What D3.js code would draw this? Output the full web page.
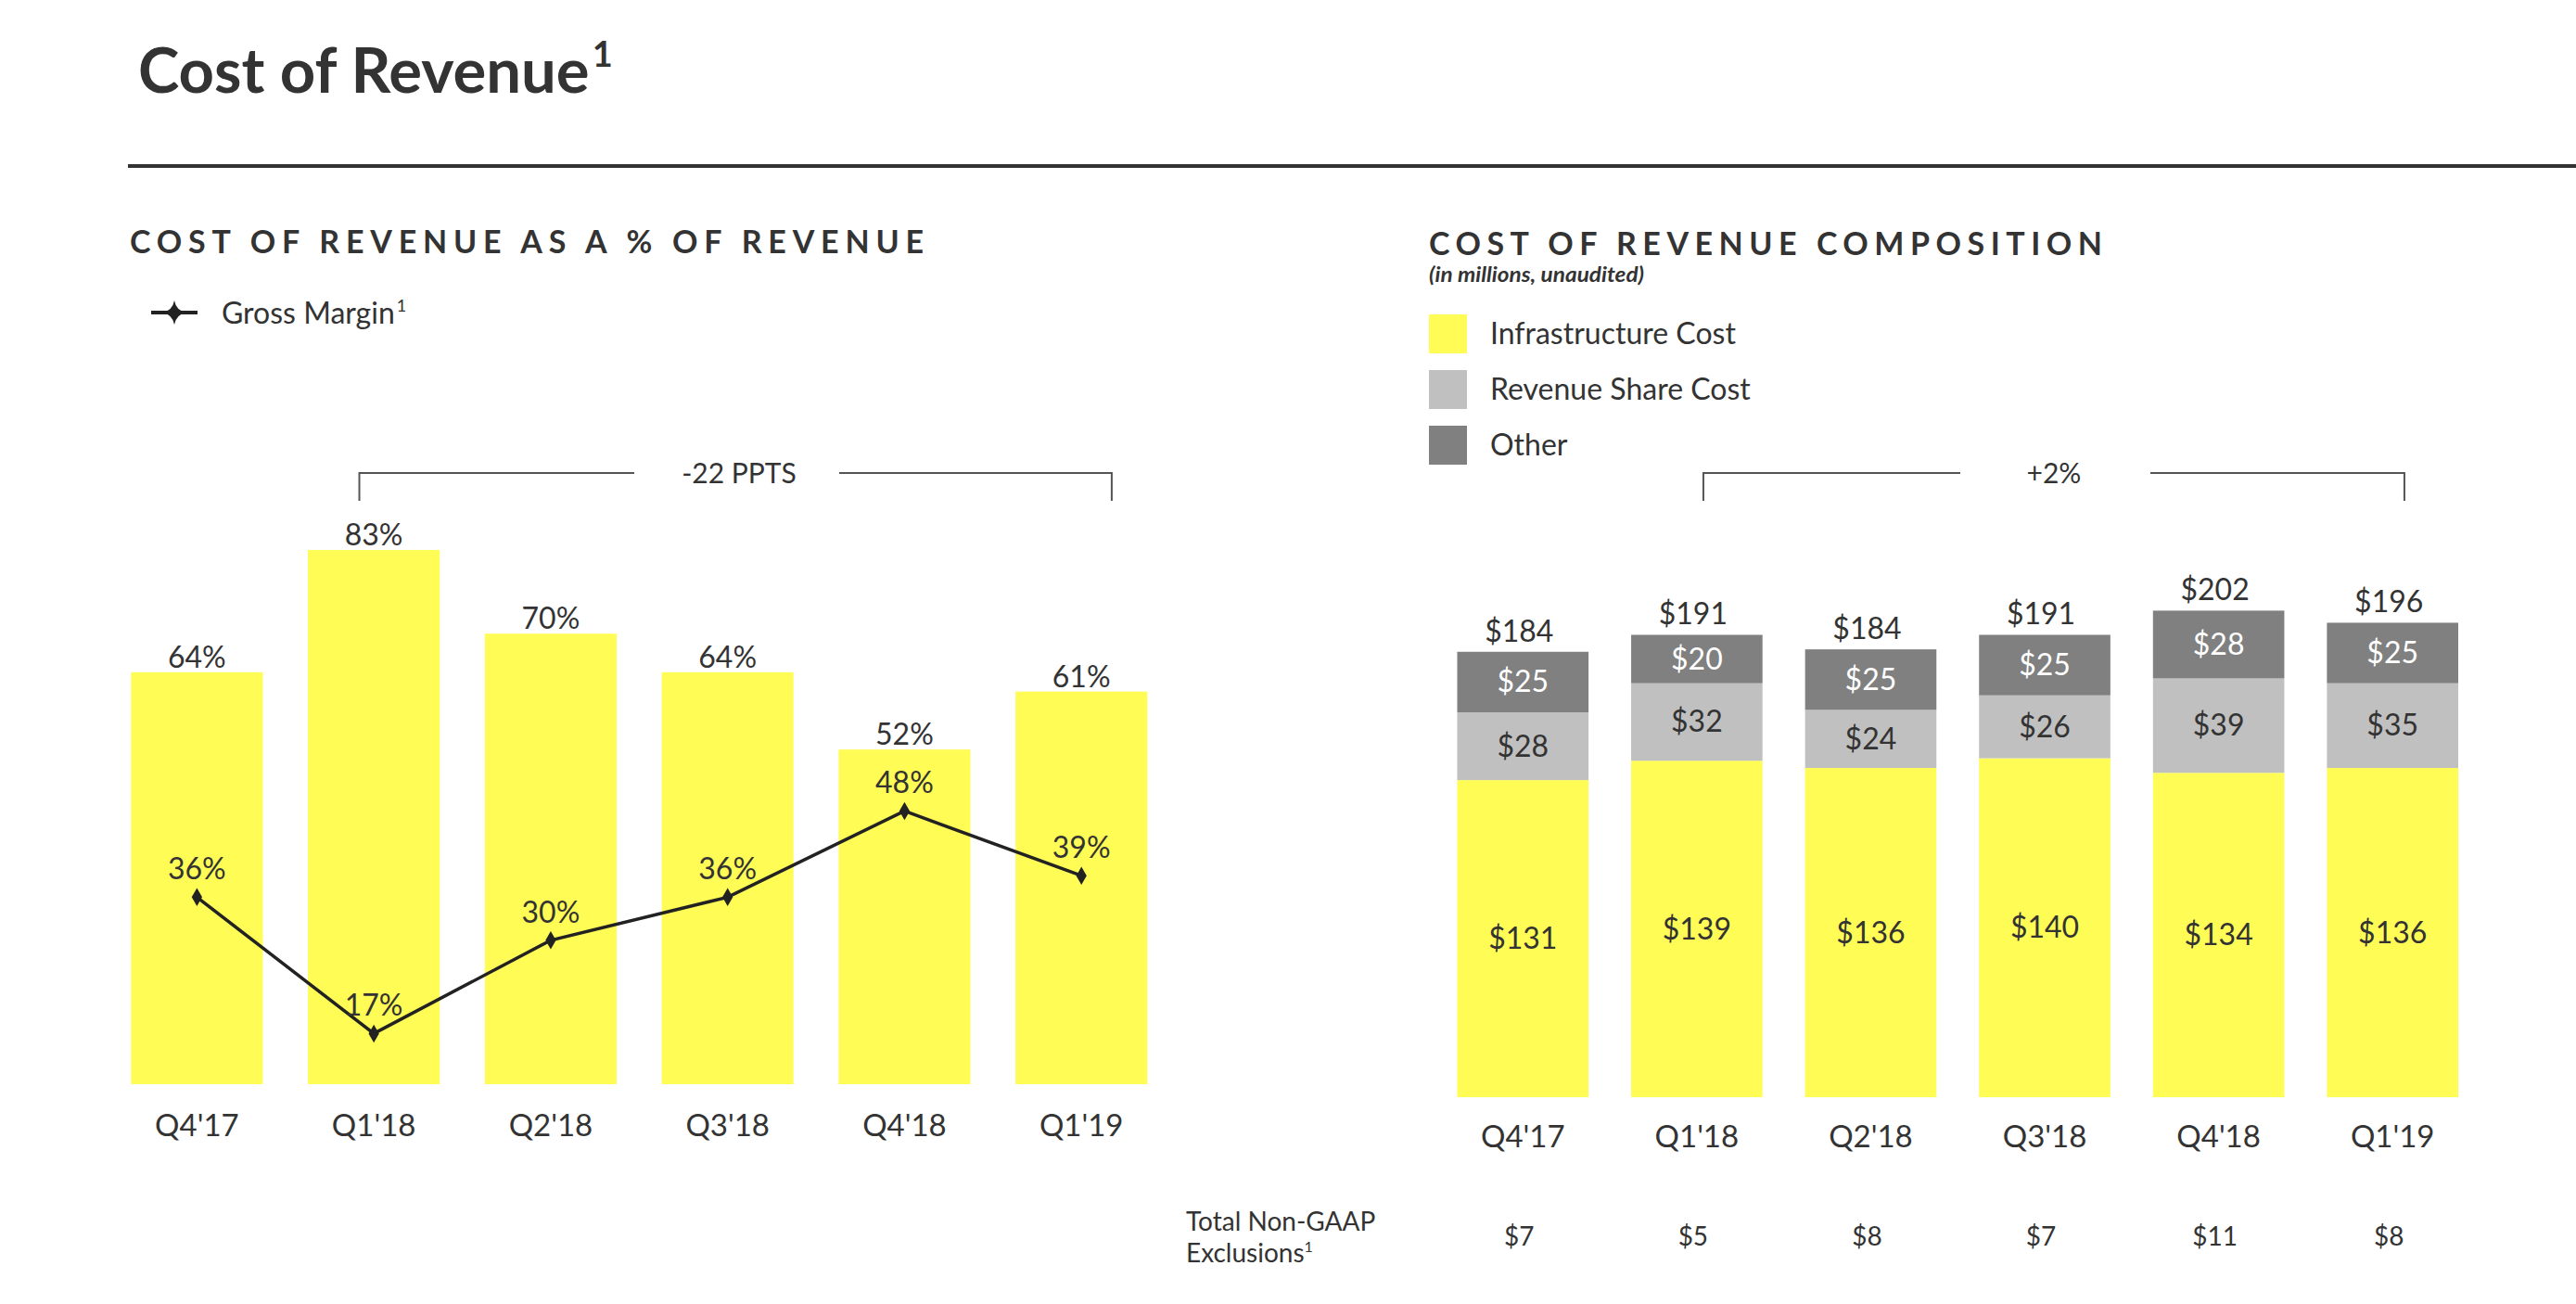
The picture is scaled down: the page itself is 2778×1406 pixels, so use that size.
<!DOCTYPE html>
<html><head><meta charset="utf-8">
<script src="https://cdn.jsdelivr.net/npm/d3@7"></script>
<style>
body{margin:0;background:#fff;}
text{font-family:Lato,"Open Sans",sans-serif;fill:#333;}
</style>
</head><body>
<svg id="c" width="2778" height="1406"></svg>
<script>
const quarters = ["Q4'17","Q1'18","Q2'18","Q3'18","Q4'18","Q1'19"];
const costPctOfRevenue = [64,83,70,64,52,61];
const grossMargin = [36,17,30,36,48,39];
const infrastructureCost = [131,139,136,140,134,136];
const revenueShareCost = [28,32,24,26,39,35];
const otherCost = [25,20,25,25,28,25];
const totalCost = [184,191,184,191,202,196];
const nonGaapExclusions = [7,5,8,7,11,8];
const seriesNames = ["Infrastructure Cost","Revenue Share Cost","Other"];
const seriesColors = ["#FFFC55","#C0C0C0","#808080"];
const seriesLabelColors = ["#333","#333","#fff"];

const svg = d3.select("#c");
const YELLOW = "#FFFC55";

// Title
const t = svg.append("text").attr("x",149).attr("y",100)
  .style("font-size","67px").style("font-weight","700").style("fill","#333")
  .text("Cost of Revenue");
t.append("tspan").attr("dx",3).attr("dy",-28).style("font-size","38px").text("1");
svg.append("line").attr("x1",138).attr("x2",2778).attr("y1",179).attr("y2",179)
  .attr("stroke","#333").attr("stroke-width",4);

// ---------- LEFT CHART ----------
svg.append("text").attr("x",140).attr("y",273)
  .attr("textLength",856).attr("lengthAdjust","spacing")
  .style("font-size","34px").style("font-weight","700").text("COST OF REVENUE AS A % OF REVENUE");

// legend
svg.append("line").attr("x1",163).attr("x2",213).attr("y1",337).attr("y2",337)
  .attr("stroke","#222").attr("stroke-width",4);
svg.append("path").attr("d","M0,-13Q2,-2 13,0Q2,2 0,13Q-2,2 -13,0Q-2,-2 0,-13Z").attr("transform","translate(188,337)").attr("fill","#222");
const lg = svg.append("text").attr("x",239).attr("y",349).style("font-size","32px").text("Gross Margin");
lg.append("tspan").attr("dx",2).attr("dy",-13).style("font-size","18px").text("1");

const xL = d3.scaleBand().domain(quarters).range([117,1261.6]).paddingInner(0.255).paddingOuter(0.1275);
const yBar = d3.scaleLinear().domain([0,100]).range([1169,475]);
const yLine = d3.scaleLinear().domain([0,100]).range([1246,472]);

svg.append("g").selectAll("rect").data(quarters).join("rect")
  .attr("x",d=>xL(d)).attr("width",xL.bandwidth())
  .attr("y",(d,i)=>yBar(costPctOfRevenue[i])).attr("height",(d,i)=>yBar(0)-yBar(costPctOfRevenue[i]))
  .attr("fill",YELLOW);
svg.append("g").selectAll("text").data(quarters).join("text")
  .attr("x",d=>xL(d)+xL.bandwidth()/2).attr("y",(d,i)=>yBar(costPctOfRevenue[i])-5)
  .attr("text-anchor","middle").style("font-size","32px")
  .text((d,i)=>costPctOfRevenue[i]+"%");

const line = d3.line().x((d,i)=>xL(quarters[i])+xL.bandwidth()/2).y(d=>yLine(d));
svg.append("path").datum(grossMargin).attr("d",line).attr("fill","none").attr("stroke","#222").attr("stroke-width",3.5);
svg.append("g").selectAll("path").data(grossMargin).join("path")
  .attr("d",d3.symbol(d3.symbolDiamond,110)())
  .attr("transform",(d,i)=>`translate(${xL(quarters[i])+xL.bandwidth()/2},${yLine(d)})`).attr("fill","#222");
svg.append("g").selectAll("text").data(grossMargin).join("text")
  .attr("x",(d,i)=>xL(quarters[i])+xL.bandwidth()/2).attr("y",d=>yLine(d)-19)
  .attr("text-anchor","middle").style("font-size","32px").text(d=>d+"%");

svg.append("g").selectAll("text").data(quarters).join("text")
  .attr("x",d=>xL(d)+xL.bandwidth()/2).attr("y",1225)
  .attr("text-anchor","middle").style("font-size","33px").text(d=>d);

function bracket(x1,x2,gapL,gapR,label,cx){
  const g = svg.append("g").attr("fill","none").attr("stroke","#555").attr("stroke-width",2);
  g.append("path").attr("d",`M${x1},540V510H${gapL}`);
  g.append("path").attr("d",`M${gapR},510H${x2}V540`);
  svg.append("text").attr("x",cx).attr("y",521).attr("text-anchor","middle").style("font-size","30px").text(label);
}
{
  const bw = xL.bandwidth();
  const a = xL("Q1'18")+0.39*bw, b = xL("Q1'19")+0.73*bw;
  bracket(a,b,684,905,"-22 PPTS",797);
}

// ---------- RIGHT CHART ----------
svg.append("text").attr("x",1541).attr("y",275)
  .attr("textLength",726).attr("lengthAdjust","spacing")
  .style("font-size","34px").style("font-weight","700").text("COST OF REVENUE COMPOSITION");
svg.append("text").attr("x",1541).attr("y",304)
  .attr("textLength",232).attr("lengthAdjust","spacingAndGlyphs")
  .style("font-size","22px").style("font-weight","700").style("font-style","italic").text("(in millions, unaudited)");

seriesNames.forEach((n,i)=>{
  const cy = 360 + i*60;
  svg.append("rect").attr("x",1541).attr("y",cy-21).attr("width",41).attr("height",42).attr("fill",seriesColors[i]);
  svg.append("text").attr("x",1607).attr("y",cy+11).style("font-size","32px").text(n);
});

const xR = d3.scaleBand().domain(quarters).range([1548.5,2674]).paddingInner(0.245).paddingOuter(0.1225);
const yR = d3.scaleLinear().domain([0,200]).range([1183,661]);

const rows = quarters.map((q,i)=>({q, "Infrastructure Cost":infrastructureCost[i], "Revenue Share Cost":revenueShareCost[i], "Other":otherCost[i]}));
const stacked = d3.stack().keys(seriesNames)(rows);

stacked.forEach((s,si)=>{
  svg.append("g").selectAll("rect").data(s).join("rect")
    .attr("x",d=>xR(d.data.q)).attr("width",xR.bandwidth())
    .attr("y",d=>yR(d[1])).attr("height",d=>yR(d[0])-yR(d[1]))
    .attr("fill",seriesColors[si]);
  svg.append("g").selectAll("text").data(s).join("text")
    .attr("x",d=>xR(d.data.q)+xR.bandwidth()/2).attr("y",d=>(yR(d[0])+yR(d[1]))/2+11)
    .attr("text-anchor","middle").style("font-size","32px").style("fill",seriesLabelColors[si])
    .text(d=>"$"+(d[1]-d[0]));
});
svg.append("g").selectAll("text").data(quarters).join("text")
  .attr("x",d=>xR(d)+xR.bandwidth()/2-4).attr("y",(d,i)=>yR(d3.sum(stacked,s=>s[i][1]-s[i][0]))-11)
  .attr("text-anchor","middle").style("font-size","32px").text((d,i)=>"$"+totalCost[i]);
svg.append("g").selectAll("text").data(quarters).join("text")
  .attr("x",d=>xR(d)+xR.bandwidth()/2).attr("y",1237)
  .attr("text-anchor","middle").style("font-size","33px").text(d=>d);

{
  const bw = xR.bandwidth();
  const a = xR("Q1'18")+0.55*bw, b = xR("Q1'19")+0.59*bw;
  bracket(a,b,2114,2319,"+2%",2215);
}

// Non-GAAP table
svg.append("text").attr("x",1279).attr("y",1327).style("font-size","28px").text("Total Non-GAAP");
const ex = svg.append("text").attr("x",1279).attr("y",1361).style("font-size","28px").text("Exclusions");
ex.append("tspan").attr("dy",-11).style("font-size","16px").text("1");
svg.append("g").selectAll("text").data(quarters).join("text")
  .attr("x",d=>xR(d)+xR.bandwidth()/2-4).attr("y",1343)
  .attr("text-anchor","middle").style("font-size","28px").text((d,i)=>"$"+nonGaapExclusions[i]);
</script>
</body></html>
